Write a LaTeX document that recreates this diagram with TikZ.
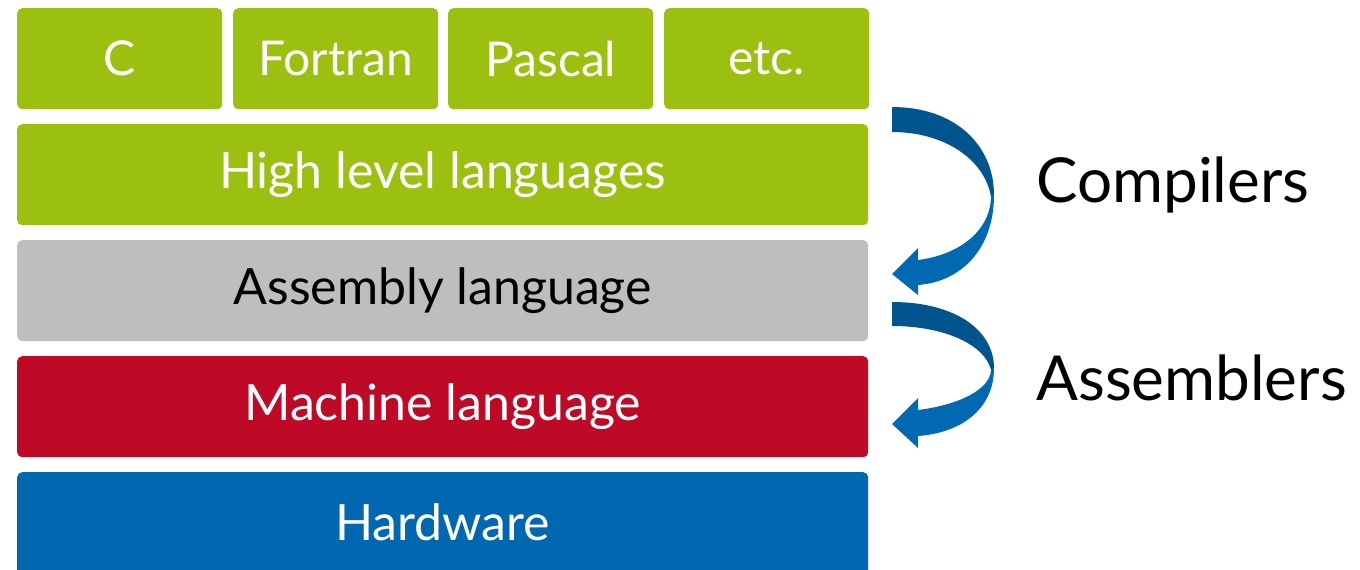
\documentclass[tikz,border=0pt]{standalone}
\usepackage{fontspec}
\setmainfont{Lato}
\definecolor{langgreen}{HTML}{9BC010}
\definecolor{asmgrey}{HTML}{BEBEBE}
\definecolor{machred}{HTML}{BE0A27}
\definecolor{hwblue}{HTML}{0068B0}
\definecolor{arrowdark}{HTML}{00558F}
\definecolor{arrowlight}{HTML}{0069B2}
\tikzset{
  layer/.style={rounded corners=5pt, inner sep=0pt, anchor=north west,
    minimum height=101pt, font=\fontsize{50}{60}\selectfont},
  langbox/.style={layer, fill=langgreen, text=white, minimum width=205pt,
    font=\fontsize{48}{58}\selectfont},
  widebox/.style={layer, minimum width=851pt},
  sidelabel/.style={anchor=west, inner sep=0pt, font=\fontsize{62}{72}\selectfont, text=black},
}
\begin{document}
\begin{tikzpicture}[x=1pt, y=-1pt]
  \useasboundingbox (0,0) rectangle (1360,570);
  \clip (0,0) rectangle (1360,570);
  % concrete languages
  \node[langbox] (c)       at (17,8)  {C};
  \node[langbox] (fortran) at (233,8) {Fortran};
  \node[langbox] (pascal)  at (448,8) {Pascal};
  \node[langbox] (etc)     at (664,8) {etc.};
  % abstraction layers
  \node[widebox, fill=langgreen, text=white] (high) at (17,124) {High level languages};
  \node[widebox, fill=asmgrey, text=black]   (asm)  at (17,240) {Assembly language};
  \node[widebox, fill=machred, text=white]   (mach) at (17,356) {Machine language};
  \node[widebox, fill=hwblue, text=white, minimum height=120pt] (hw) at (17,472) {};
  \node[text=white, font=\fontsize{50}{60}\selectfont] (hwlabel) at (442.5,522) {Hardware};
  % translation steps
  \coordinate (cstart) at (892,107);
  \coordinate (astart) at (892,302);
  \fill[arrowdark] (cstart) .. controls (955,107) and (994,145) .. (994,195)
    -- (991,197) .. controls (985,160) and (945,132) .. (892,132) -- cycle;
  \fill[arrowlight] (994,195) .. controls (994,250) and (960,282) .. (918,285)
    -- (918,295) -- (892,274) -- (918,248) -- (918,260)
    .. controls (958,255) and (990,232) .. (991,197) -- cycle;
  \fill[arrowdark] (astart) .. controls (955,302) and (994,330) .. (994,368)
    -- (991,370) .. controls (985,345) and (945,326) .. (892,326) -- cycle;
  \fill[arrowlight] (994,368) .. controls (994,410) and (960,433) .. (918,436)
    -- (918,448) -- (892,424) -- (918,398) -- (918,410)
    .. controls (958,405) and (990,390) .. (991,370) -- cycle;
  \node[sidelabel] (compilers)  at (1036,185) {Compilers};
  \node[sidelabel] (assemblers) at (1036,378) {Assemblers};
\end{tikzpicture}
\end{document}
